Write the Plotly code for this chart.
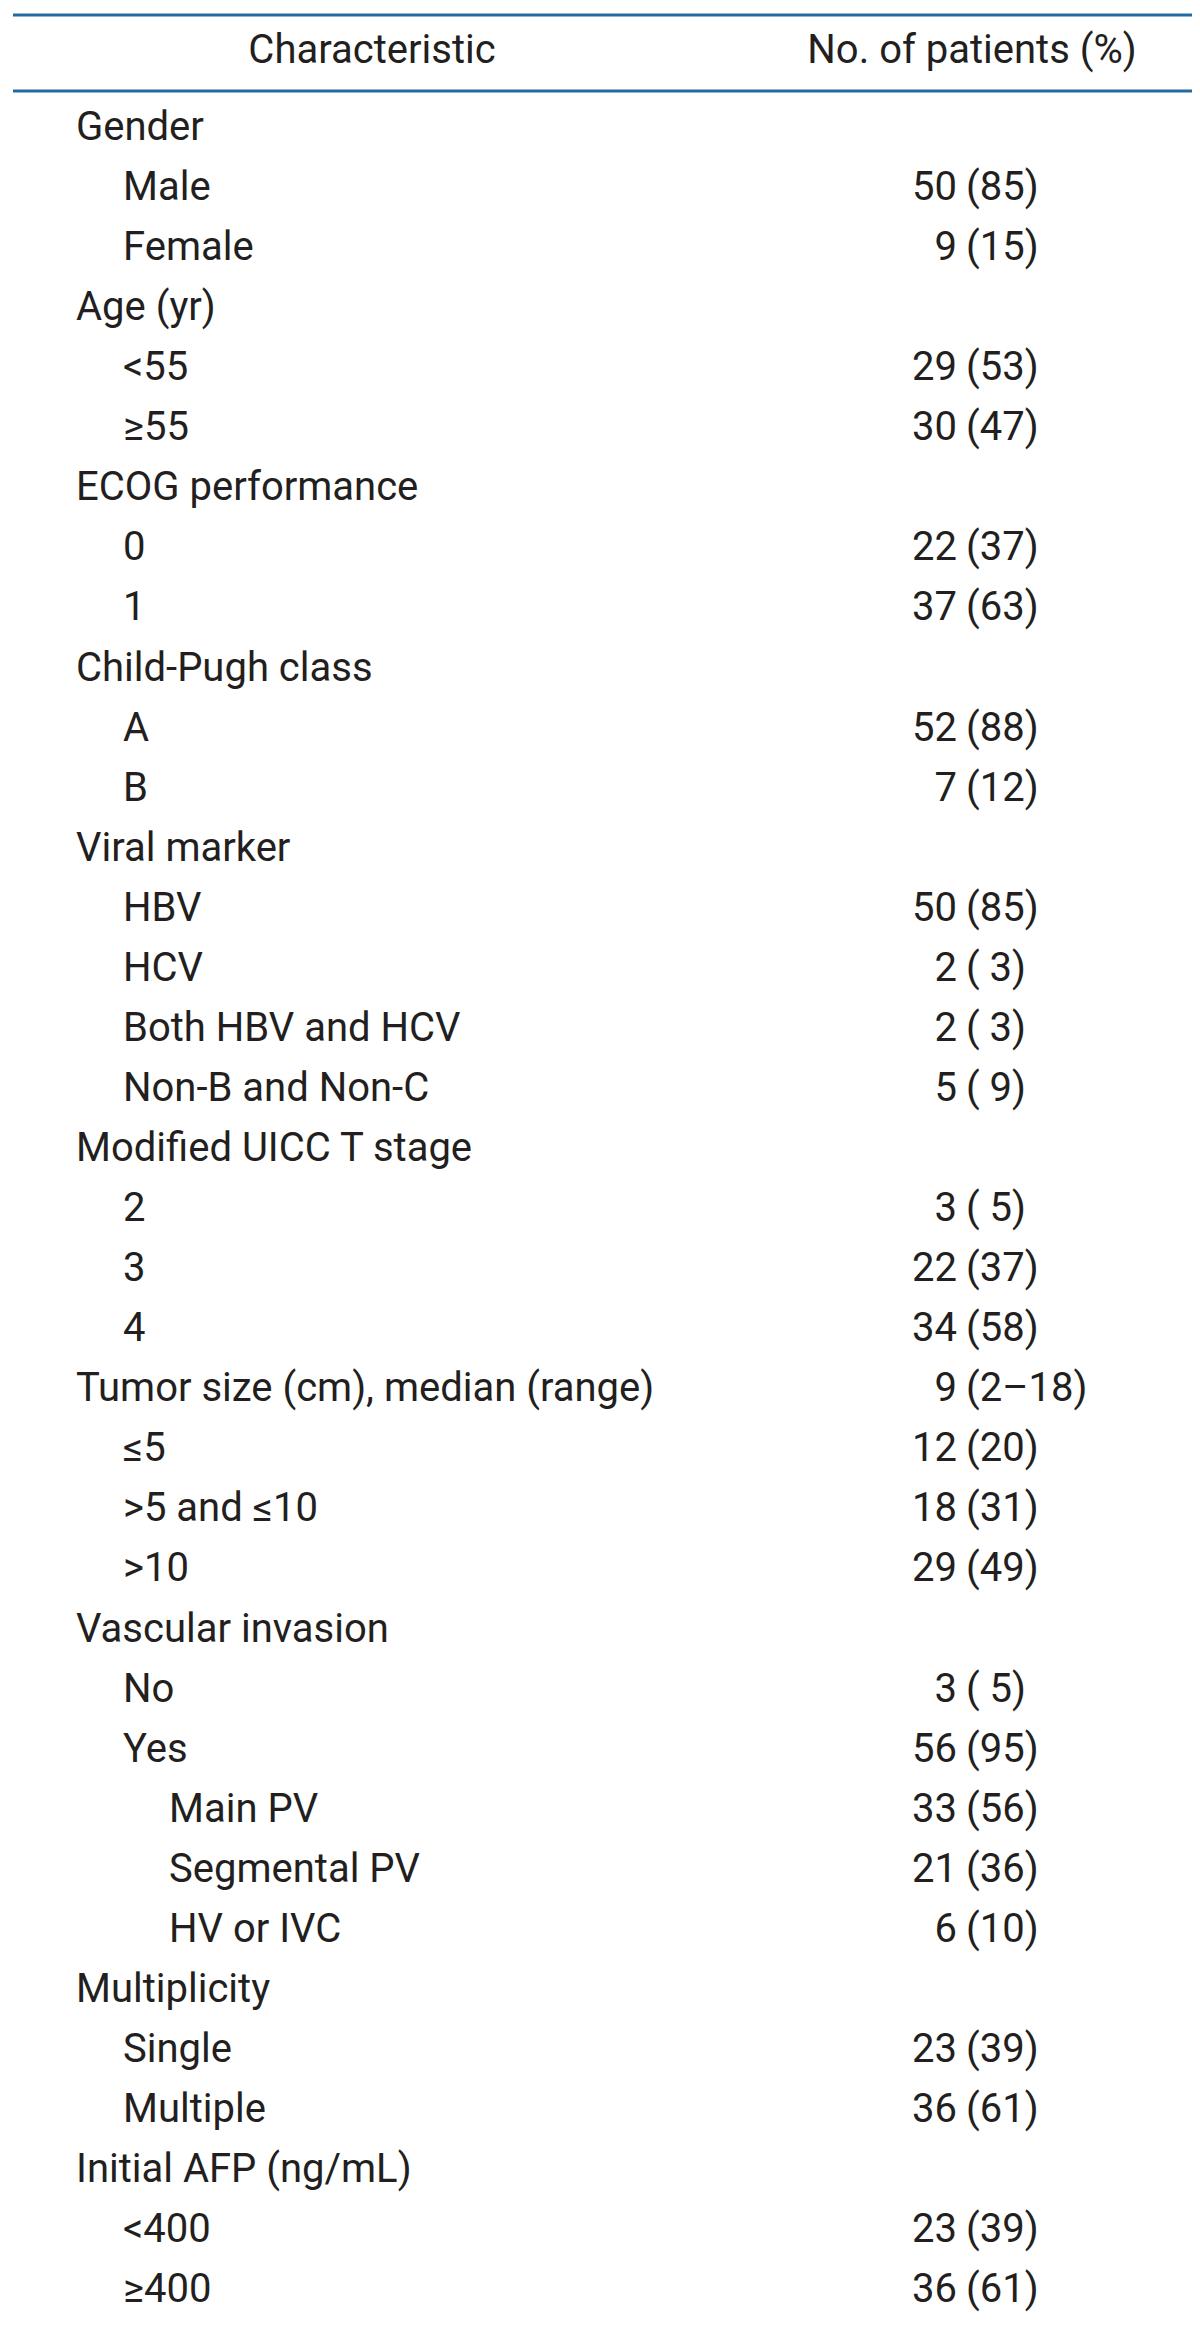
import plotly.graph_objects as go

# ---- data ----
labels = ["Gender", "Male", "Female",
          "Age (yr)", "<55", "≥55",
          "ECOG performance", "0", "1",
          "Child-Pugh class", "A", "B",
          "Viral marker", "HBV", "HCV", "Both HBV and HCV", "Non-B and Non-C",
          "Modified UICC T stage", "2", "3", "4",
          "Tumor size (cm), median (range)", "≤5", ">5 and ≤10", ">10",
          "Vascular invasion", "No", "Yes", "Main PV", "Segmental PV", "HV or IVC",
          "Multiplicity", "Single", "Multiple",
          "Initial AFP (ng/mL)", "<400", "≥400"]
levels = [0, 1, 1,
          0, 1, 1,
          0, 1, 1,
          0, 1, 1,
          0, 1, 1, 1, 1,
          0, 1, 1, 1,
          0, 1, 1, 1,
          0, 1, 1, 2, 2, 2,
          0, 1, 1,
          0, 1, 1]
counts = ["", "50", "9",
          "", "29", "30",
          "", "22", "37",
          "", "52", "7",
          "", "50", "2", "2", "5",
          "", "3", "22", "34",
          "9", "12", "18", "29",
          "", "3", "56", "33", "21", "6",
          "", "23", "36",
          "", "23", "36"]
pcts = ["", "(85)", "(15)",
        "", "(53)", "(47)",
        "", "(37)", "(63)",
        "", "(88)", "(12)",
        "", "(85)", "( 3)", "( 3)", "( 9)",
        "", "( 5)", "(37)", "(58)",
        "(2–18)", "(20)", "(31)", "(49)",
        "", "( 5)", "(95)", "(56)", "(36)", "(10)",
        "", "(39)", "(61)",
        "", "(39)", "(61)"]
headers = ["Characteristic", "No. of patients (%)"]

# ---- layout constants ----
W, H = 1200, 2328
ROW = 60.06          # px per row
FIRST = 122.0        # px centre of first row
indent_x = {0: 68, 1: 115, 2: 161}
count_right = 949
pct_left = 958
font = dict(family="Roboto", size=40, color="#231f20")
line_color = "#236aa0"

n = len(labels)
rows = list(range(n))
ytop = -FIRST / ROW
ybot = ytop + H / ROW

def px2row(p):
    return ytop + p / ROW

fig = go.Figure()

# characteristic column
fig.add_trace(go.Scatter(
    x=[indent_x[l] for l in levels], y=rows, text=labels,
    mode="text", textposition="middle right", textfont=font,
    hoverinfo="skip", showlegend=False))
# counts (right aligned)
fig.add_trace(go.Scatter(
    x=[count_right] * n, y=rows, text=counts,
    mode="text", textposition="middle left", textfont=font,
    hoverinfo="skip", showlegend=False))
# percentages (left aligned at the parenthesis)
fig.add_trace(go.Scatter(
    x=[pct_left] * n, y=rows, text=pcts,
    mode="text", textposition="middle right", textfont=font,
    hoverinfo="skip", showlegend=False))
# header
fig.add_trace(go.Scatter(
    x=[364, 964], y=[px2row(45)] * 2, text=headers,
    mode="text", textposition="middle center", textfont=font,
    hoverinfo="skip", showlegend=False))

for p in (7, 83, 2323):
    fig.add_shape(type="line", xref="x", yref="y",
                  x0=5, x1=W, y0=px2row(p), y1=px2row(p),
                  line=dict(color=line_color, width=3))

fig.update_layout(
    width=W, height=H,
    margin=dict(l=0, r=0, t=0, b=0),
    paper_bgcolor="white", plot_bgcolor="white",
    xaxis=dict(range=[0, W], visible=False, fixedrange=True),
    yaxis=dict(range=[ybot, ytop], visible=False, fixedrange=True),
)

fig.write_html("out.html")
